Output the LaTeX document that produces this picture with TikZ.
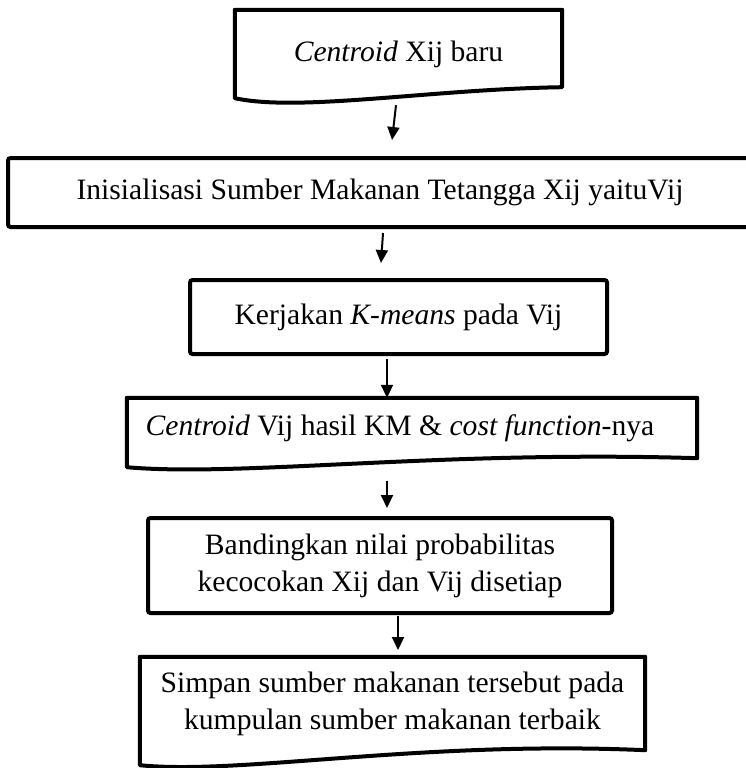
\documentclass[tikz,border=0pt]{standalone}
\usepackage{fontspec}
\setmainfont{Liberation Serif}
\usetikzlibrary{arrows.meta,calc}
\begin{document}
\begin{tikzpicture}[x=1pt,y=-1pt,
  txt/.style={inner sep=0pt, align=center, font=\fontsize{29.6}{37}\selectfont},
  rbox/.style={txt, draw, line width=4pt, rounded corners=2.5pt},
  docline/.style={line width=4pt, line join=round},
  arr/.style={line width=2pt, -{Triangle[width=12pt,length=13pt]}}]
\useasboundingbox (0,0) rectangle (746,768);
% document shape 1
\node[txt, minimum width=327pt, minimum height=88pt] (b1) at (398.5,54) {\textit{Centroid} Xij baru};
\draw[docline] (b1.south west) -- (b1.north west) -- (b1.north east) -- ([yshift=11pt]b1.south east)
  .. controls ($(b1.south east)+(-132,-9)$) and ($(b1.south west)+(65,14)$) .. (b1.south west) -- cycle;
% box 2
\node[rbox, minimum width=744pt, minimum height=69pt] (b2) at (380,192.5) {Inisialisasi Sumber Makanan Tetangga Xij yaituVij};
% box 3
\node[rbox, minimum width=417pt, minimum height=74pt] (b3) at (398.5,317) {Kerjakan \textit{K-means} pada Vij};
% document shape 4
\node[txt, minimum width=570pt, minimum height=60pt] (b4) at (412,428) {\hspace*{-24pt}\textit{Centroid} Vij hasil KM \& \textit{cost function}-nya};
\draw[docline] ([yshift=-9pt]b4.south west) -- (b4.north west) -- (b4.north east) -- (b4.south east)
  .. controls ($(b4.south east)+(-257,-8)$) and ($(b4.south west)+(114,19)$) .. ([yshift=-9pt]b4.south west) -- cycle;
% box 5
\node[rbox, minimum width=464pt, minimum height=95pt] (b5) at (380,565.5) {Bandingkan nilai probabilitas\\kecocokan Xij dan Vij disetiap};
% document shape 6
\node[txt, minimum width=505pt, minimum height=93pt] (b6) at (392.5,703.5) {Simpan sumber makanan tersebut pada\\kumpulan sumber makanan terbaik};
\draw[docline] ([yshift=-15pt]b6.south west) -- (b6.north west) -- (b6.north east) -- (b6.south east)
  .. controls ($(b6.south east)+(-225,-10)$) and ($(b6.south west)+(100,25)$) .. ([yshift=-15pt]b6.south west) -- cycle;
% arrow end points
\coordinate (e1) at (392,140);
\coordinate (e2) at (381,263);
\coordinate (e4) at (387,508);
\coordinate (e5) at (398,650);
\draw[arr] ([xshift=-2.5pt,yshift=-7pt]b1.south) -- (e1);
\draw[arr] ([xshift=3pt,yshift=-4pt]b2.south) -- (e2);
\draw[arr] ([xshift=-11.5pt,yshift=-3pt]b3.south) -- ([xshift=-25pt]b4.north);
\draw[arr] ([xshift=-25pt,yshift=-23pt]b4.south) -- (e4);
\draw[arr] ([xshift=18pt,yshift=-1pt]b5.south) -- (e5);
\end{tikzpicture}
\end{document}
